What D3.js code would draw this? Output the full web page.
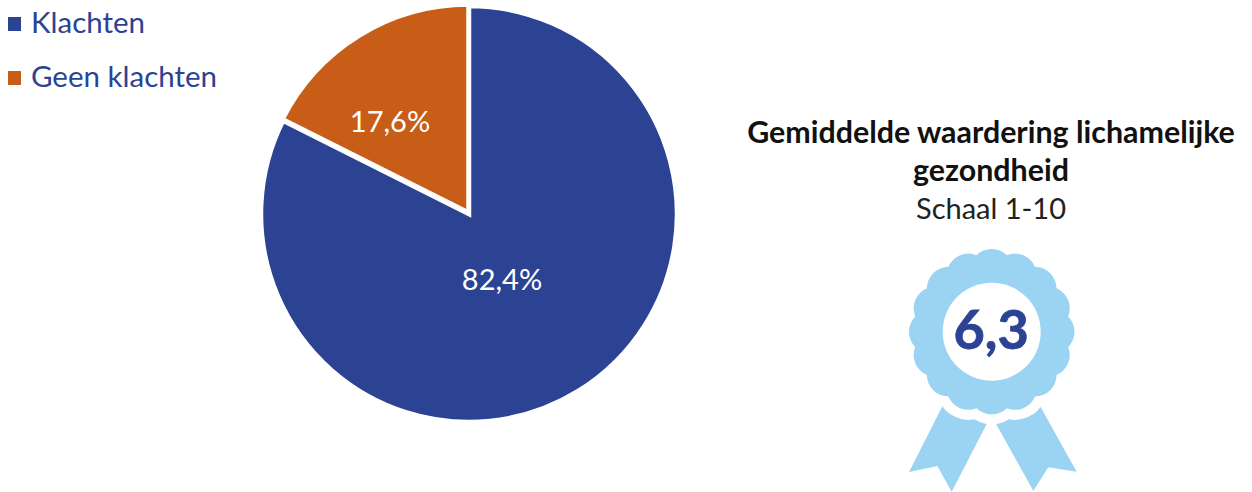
<!DOCTYPE html>
<html><head><meta charset="utf-8">
<script src="https://cdn.jsdelivr.net/npm/d3@7"></script>
<style>html,body{margin:0;padding:0;background:#fff}svg{display:block}text{font-family:Lato,sans-serif}</style>
</head><body><svg id="c" width="1252" height="492"></svg>
<script>
const categories = ["Klachten", "Geen klachten"];
const values = [82.4, 17.6];
const valueLabels = ["82,4%", "17,6%"];
const colors = ["#2C4394", "#C85D17"];
const titleLines = ["Gemiddelde waardering lichamelijke", "gezondheid"];
const subtitle = "Schaal 1-10";
const score = "6,3";

const svg = d3.select("#c");
const cx = 469, cy = 214, R = 208;
const pie = d3.pie().sort(null).value(d => d)(values);
const arc = d3.arc().innerRadius(0).outerRadius(R);
const g = svg.append("g").attr("transform", `translate(${cx},${cy})`);
const sliceShift = [[0, 0], [-0.5, -1.5]];
g.selectAll("path").data(pie).join("path")
  .attr("d", arc).attr("fill", (d, i) => colors[i])
  .attr("transform", (d, i) => `translate(${sliceShift[i]})`)
  .attr("stroke", "#fff").attr("stroke-width", 4.5).attr("stroke-linejoin", "miter");
const labelPos = [[33, 66], [-79, -92]];
g.selectAll("text").data(valueLabels).join("text")
  .attr("x", (d, i) => labelPos[i][0]).attr("y", (d, i) => labelPos[i][1] + 10)
  .attr("text-anchor", "middle").attr("fill", "#fff").attr("font-size", 29).text(d => d);

// legend
const legY = d3.scalePoint().domain(categories).range([24, 78]);
const leg = svg.append("g");
leg.selectAll("rect").data(categories).join("rect")
  .attr("x", 8).attr("y", d => legY(d) - 7).attr("width", 13).attr("height", 14)
  .attr("fill", (d, i) => colors[i]);
leg.selectAll("text").data(categories).join("text")
  .attr("x", 31).attr("y", d => legY(d) + 9).attr("font-size", 29.5).attr("fill", "#2C4394").text(d => d);

// title
const tx = 991;
svg.selectAll("text.t").data(titleLines).join("text").attr("class", "t")
  .attr("x", tx).attr("y", (d, i) => 143 + i * 38).attr("text-anchor", "middle")
  .attr("font-weight", 700).attr("font-size", 30.4).attr("fill", "#111").text(d => d);
svg.append("text").attr("x", tx).attr("y", 219).attr("text-anchor", "middle")
  .attr("font-size", 29).attr("fill", "#222").text(subtitle);

// rosette
const rx = 991.7, ry = 331.7, lobes = 16, notchR = 78, arcR = 21.7, blue = "#9BD3F3";
const Z = (zx, zy) => [880 + zx / 3, 240 + zy / 3];
const ribbons = [
  [Z(335, 275), Z(188, 497), Z(87, 696), Z(172, 678), Z(215, 755), Z(320, 552)],
  [Z(335, 275), Z(483, 503), Z(590, 695), Z(505, 682), Z(460, 752), Z(347, 550)]
];
svg.selectAll("polygon").data(ribbons).join("polygon")
  .attr("points", d => d.join(" ")).attr("fill", blue);
let dp = "";
for (let i = 0; i < lobes; i++) {
  const a = (i - 0.5) * 2 * Math.PI / lobes, b = (i + 0.5) * 2 * Math.PI / lobes;
  const p = t => [rx + notchR * Math.sin(t), ry - notchR * Math.cos(t)];
  const [x0, y0] = p(a), [x1, y1] = p(b);
  dp += (i === 0 ? `M${x0},${y0}` : "") + `A${arcR},${arcR} 0 0 1 ${x1},${y1}`;
}
dp += "Z";
svg.append("path").attr("d", dp).attr("fill", "none").attr("stroke", "#fff").attr("stroke-width", 20);
svg.append("path").attr("d", dp).attr("fill", blue);
svg.append("circle").attr("cx", rx).attr("cy", ry).attr("r", 49).attr("fill", "#fff");
svg.append("text").attr("x", rx - 0.5).attr("y", 349).attr("text-anchor", "middle")
  .attr("font-weight", 700).attr("font-size", 54).attr("stroke", "#2C4394").attr("stroke-width", 0.8)
  .attr("fill", "#2C4394").text(score);
</script></body></html>
